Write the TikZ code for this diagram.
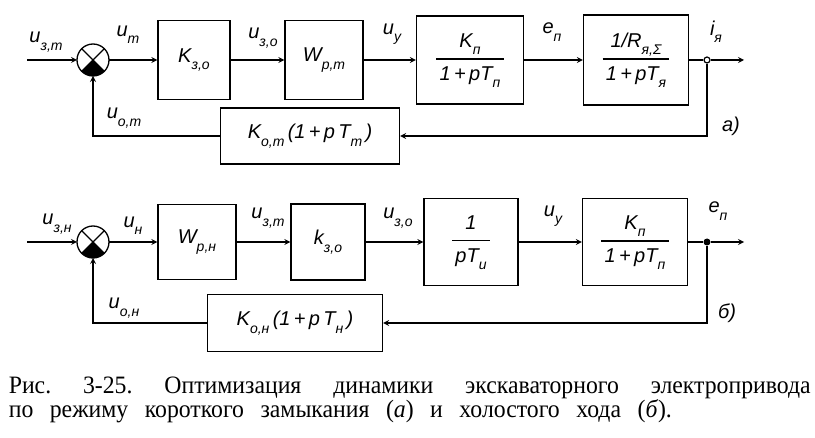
\documentclass[tikz,border=0pt]{standalone}
\usepackage{fontspec}
\setmainfont{Liberation Serif}[FakeStretch=0.95]
\newfontfamily\dfont{Liberation Sans}
\newcommand\sbs[1]{\raisebox{-0.7ex}{\fontsize{14}{14}\selectfont #1}}
\newcommand\frc[2]{\setlength\arrayrulewidth{1.5pt}\begin{tabular}{@{\,}c@{\,}}#1\\[4pt]\hline\rule{0pt}{21pt}#2\end{tabular}}
\newcommand\capfont{\rmfamily\fontsize{25}{20}\selectfont\frenchspacing\spaceskip=16.5pt plus 20pt minus 2pt\relax}
\begin{document}
\begin{tikzpicture}[x=1pt,y=1pt,> = stealth,line width=1.6pt,
	every node/.style={font=\dfont\itshape\fontsize{20}{22}\selectfont},
	blk/.style={draw,line width=1.3pt,inner sep=0pt},
	sum/.style={draw,circle,line width=1.3pt,minimum size=32pt,inner sep=0pt,outer sep=0pt},
	lbl/.style={inner sep=1pt}]
	\useasboundingbox (0,0) rectangle (815,437);

	% а) short circuit
	\coordinate (in1) at (27,377);
	\node[sum] (s1) at (93,377) {};
	\node[blk,minimum width=72pt,minimum height=79pt] (kzo1) at (194,377) {K\sbs{з,о}};
	\node[blk,minimum width=78pt,minimum height=79pt] (wrt) at (324,377) {W\sbs{р,т}};
	\node[blk,minimum width=107pt,minimum height=88pt] (kp1) at (470,377) {\frc{K\sbs{п}}{1\,+\,pT\sbs{п}}};
	\node[blk,minimum width=105pt,minimum height=90pt] (ra) at (636,377) {\frc{1/R\sbs{я,Σ}}{1\,+\,pT\sbs{я}}};
	\node[draw,circle,fill=white,line width=1.2pt,minimum size=6pt,inner sep=0pt] (b1) at (707,377) {};
	\coordinate (out1) at (744,377);
	\node[blk,minimum width=179pt,minimum height=56pt] (fb1) at (310,301) {K\sbs{о,т}\,(1\,+\,p\,T\sbs{т}\,)};

	\node[lbl] (uzt1) at (46,395) {u\sbs{з,т}};
	\node[lbl] (ut) at (128,402) {u\sbs{т}};
	\node[lbl] (uzo1) at (263,399) {u\sbs{з,о}};
	\node[lbl] (uy1) at (392,403) {u\sbs{у}};
	\node[lbl] (ep1) at (552,405) {e\sbs{п}};
	\node[lbl] (iya) at (716,405) {i\sbs{я}};
	\node[lbl] (uot) at (124,319) {u\sbs{о,т}};
	\node[lbl] (la) at (731,311) {а)};

	\draw[->] (in1) -- (s1);
	\draw[->] (s1) -- (kzo1);
	\draw[->] (kzo1) -- (wrt);
	\draw[->] (wrt) -- (kp1);
	\draw[->] (kp1) -- (ra);
	\draw (ra) -- (b1);
	\draw[->] (b1) -- (out1);
	\draw[->] (b1) |- (fb1);
	\draw[->] (fb1) -| (s1);

	% б) no-load
	\coordinate (in2) at (27,195);
	\node[sum] (s2) at (93,195) {};
	\node[blk,minimum width=78pt,minimum height=75pt] (wrn) at (197,195) {W\sbs{р,н}};
	\node[blk,minimum width=74pt,minimum height=76pt] (kzo2) at (328,195) {k\sbs{з,о}};
	\node[blk,minimum width=94pt,minimum height=87pt] (ti) at (471,195) {\frc{1}{pT\sbs{и}}};
	\node[blk,minimum width=105pt,minimum height=87pt] (kp2) at (635,195) {\frc{K\sbs{п}}{1\,+\,pT\sbs{п}}};
	\node[circle,fill,minimum size=7pt,inner sep=0pt] (b2) at (707,195) {};
	\coordinate (out2) at (744,195);
	\node[blk,minimum width=175pt,minimum height=57pt] (fb2) at (295,114) {K\sbs{о,н}\,(1\,+\,p\,T\sbs{н}\,)};

	\node[lbl] (uzn) at (57,213) {u\sbs{з,н}};
	\node[lbl] (un) at (133,211) {u\sbs{н}};
	\node[lbl] (uzt2) at (268,219) {u\sbs{з,т}};
	\node[lbl] (uzo2) at (398,219) {u\sbs{з,о}};
	\node[lbl] (uy2) at (553,221) {u\sbs{у}};
	\node[lbl] (ep2) at (718,226) {e\sbs{п}};
	\node[lbl] (uon) at (124,129) {u\sbs{о,н}};
	\node[lbl] (lb) at (727,124) {б)};

	\draw[->] (in2) -- (s2);
	\draw[->] (s2) -- (wrn);
	\draw[->] (wrn) -- (kzo2);
	\draw[->] (kzo2) -- (ti);
	\draw[->] (ti) -- (kp2);
	\draw (kp2) -- (b2);
	\draw[->] (b2) -- (out2);
	\draw[->] (b2) |- (fb2);
	\draw[->] (fb2) -| (s2);

	\foreach \s in {s1,s2} {
		\draw[line width=1.3pt] (\s.north west) -- (\s.south east) (\s.north east) -- (\s.south west);
		\fill (\s.center) -- (\s.south west) arc[start angle=225,end angle=315,radius=16pt] -- cycle;
	}

	\node[anchor=north west,inner sep=0pt,text width=802pt,align=justify,font=\capfont] (cap) at (8,61)
		{Рис. 3-25. Оптимизация динамики экскаваторного электропривода\linebreak по режиму короткого замыкания (\textit{а}) и холостого хода (\textit{б}).};
\end{tikzpicture}
\end{document}
